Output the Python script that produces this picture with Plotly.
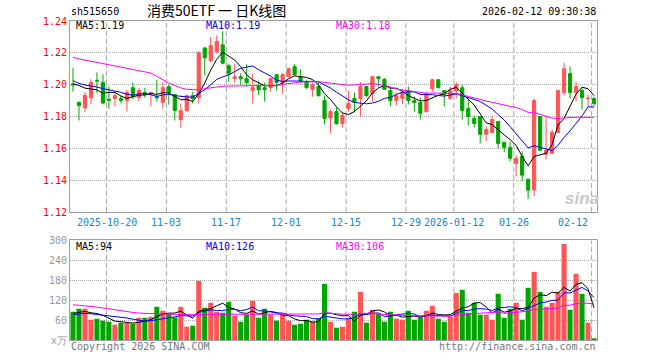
import plotly.graph_objects as go
import pandas as pd

# ---------------- data ----------------
dates = [
    "2025-10-10", "2025-10-13", "2025-10-14", "2025-10-15", "2025-10-16", "2025-10-17",
    "2025-10-20", "2025-10-21", "2025-10-22", "2025-10-23", "2025-10-24",
    "2025-10-27", "2025-10-28", "2025-10-29", "2025-10-30", "2025-10-31",
    "2025-11-03", "2025-11-04", "2025-11-05", "2025-11-06", "2025-11-07",
    "2025-11-10", "2025-11-11", "2025-11-12", "2025-11-13", "2025-11-14",
    "2025-11-17", "2025-11-18", "2025-11-19", "2025-11-20", "2025-11-21",
    "2025-11-24", "2025-11-25", "2025-11-26", "2025-11-27", "2025-11-28",
    "2025-12-01", "2025-12-02", "2025-12-03", "2025-12-04", "2025-12-05",
    "2025-12-08", "2025-12-09", "2025-12-10", "2025-12-11", "2025-12-12",
    "2025-12-15", "2025-12-16", "2025-12-17", "2025-12-18", "2025-12-19",
    "2025-12-22", "2025-12-23", "2025-12-24", "2025-12-25", "2025-12-26",
    "2025-12-29", "2025-12-30", "2025-12-31",
    "2026-01-05", "2026-01-06", "2026-01-07", "2026-01-08", "2026-01-09",
    "2026-01-12", "2026-01-13", "2026-01-14", "2026-01-15", "2026-01-16",
    "2026-01-19", "2026-01-20", "2026-01-21", "2026-01-22", "2026-01-23",
    "2026-01-26", "2026-01-27", "2026-01-28", "2026-01-29", "2026-01-30",
    "2026-02-02", "2026-02-03", "2026-02-04", "2026-02-05", "2026-02-06",
    "2026-02-09", "2026-02-10", "2026-02-11", "2026-02-12",
]

opens = [
    1.2005, 1.1888, 1.1854, 1.1917, 1.2027, 1.2014, 1.1908, 1.1913, 1.1913, 1.1900,
    1.1981, 1.1919, 1.1950, 1.1942, 1.1925, 1.1888, 1.1988, 1.1938, 1.1781, 1.1838,
    1.1931, 1.1919, 1.2231, 1.2150, 1.2208, 1.2250, 1.2119, 1.2038, 1.2050, 1.2038,
    1.1963, 1.1992, 1.1981, 1.1981, 1.2063, 1.2013, 1.2050, 1.2113, 1.2050, 1.2019,
    1.1969, 1.1988, 1.1900, 1.1790, 1.1831, 1.1756, 1.1850, 1.1913, 1.1913, 1.1988,
    1.1944, 1.2050, 1.2033, 1.1963, 1.1900, 1.1913, 1.1963, 1.1900, 1.1888, 1.1831,
    1.1975, 1.2031, 1.1963, 1.1913, 1.1963, 1.1981, 1.1850, 1.1788, 1.1800, 1.1688,
    1.1700, 1.1769, 1.1638, 1.1606, 1.1506, 1.1550, 1.1406, 1.1338, 1.1800, 1.1563,
    1.1569, 1.1700, 1.1950, 1.2069, 1.1950, 1.1963, 1.1913, 1.1913,
]
highs = [
    1.2106, 1.1894, 1.1952, 1.2034, 1.2077, 1.2065, 1.1988, 1.1956, 1.1931, 1.1969,
    1.2013, 1.1981, 1.1981, 1.1956, 1.2031, 1.2019, 1.2000, 1.1942, 1.1881, 1.1938,
    1.1956, 1.2210, 1.2235, 1.2300, 1.2310, 1.2335, 1.2133, 1.2133, 1.2071, 1.2129,
    1.2067, 1.2023, 1.2013, 1.2044, 1.2067, 1.2075, 1.2106, 1.2129, 1.2098, 1.2031,
    1.2013, 1.2013, 1.1931, 1.1840, 1.1856, 1.1831, 1.1963, 1.1950, 1.2015, 1.1994,
    1.2050, 1.2052, 1.2042, 1.1981, 1.1950, 1.1975, 1.1988, 1.1925, 1.1919, 1.1956,
    1.2038, 1.2033, 1.1965, 1.1988, 1.2015, 1.2000, 1.1913, 1.1806, 1.1800, 1.1738,
    1.1800, 1.1771, 1.1640, 1.1638, 1.1556, 1.1581, 1.1408, 1.1913, 1.1802, 1.1800,
    1.1719, 1.1969, 1.2138, 1.2113, 1.2019, 1.1981, 1.1938, 1.1925,
]
lows = [
    1.1956, 1.1775, 1.1828, 1.1879, 1.1948, 1.1876, 1.1849, 1.1863, 1.1883, 1.1831,
    1.1908, 1.1894, 1.1919, 1.1863, 1.1894, 1.1850, 1.1875, 1.1775, 1.1731, 1.1831,
    1.1881, 1.1881, 1.2060, 1.2140, 1.2195, 1.2128, 1.2019, 1.2013, 1.2000, 1.1988,
    1.1881, 1.1935, 1.1894, 1.1956, 1.1963, 1.1944, 1.2044, 1.2056, 1.2013, 1.1975,
    1.1925, 1.1925, 1.1750, 1.1696, 1.1748, 1.1731, 1.1831, 1.1827, 1.1800, 1.1925,
    1.1894, 1.1988, 1.1967, 1.1863, 1.1869, 1.1879, 1.1875, 1.1831, 1.1781, 1.1825,
    1.1956, 1.1977, 1.1863, 1.1906, 1.1913, 1.1781, 1.1744, 1.1731, 1.1631, 1.1644,
    1.1694, 1.1600, 1.1575, 1.1519, 1.1425, 1.1394, 1.1281, 1.1300, 1.1581, 1.1531,
    1.1563, 1.1696, 1.1931, 1.1913, 1.1894, 1.1844, 1.1863, 1.1863,
]
closes = [
    1.1998, 1.1869, 1.1933, 1.2014, 1.2024, 1.1885, 1.1902, 1.1931, 1.1900, 1.1950,
    1.1925, 1.1963, 1.1938, 1.1950, 1.1917, 1.1981, 1.1950, 1.1838, 1.1838, 1.1931,
    1.1913, 1.2200, 1.2169, 1.2245, 1.2272, 1.2135, 1.2071, 1.2050, 1.2038, 1.2013,
    1.1981, 1.1967, 1.1969, 1.2038, 1.2013, 1.2063, 1.2100, 1.2063, 1.2019, 1.1981,
    1.2000, 1.1931, 1.1788, 1.1831, 1.1754, 1.1806, 1.1881, 1.1888, 1.1988, 1.1931,
    1.2050, 1.2038, 1.1971, 1.1900, 1.1931, 1.1950, 1.1900, 1.1888, 1.1821, 1.1944,
    1.2031, 1.1981, 1.1938, 1.1963, 1.2000, 1.1838, 1.1800, 1.1756, 1.1688, 1.1719,
    1.1781, 1.1631, 1.1606, 1.1538, 1.1538, 1.1431, 1.1338, 1.1900, 1.1588, 1.1588,
    1.1700, 1.1963, 1.2100, 1.1950, 1.1988, 1.1919, 1.1915, 1.1881,
]
volumes = [
    85, 94, 94, 61, 64, 58, 55, 46, 52, 52,
    49, 67, 67, 70, 100, 88, 79, 68, 100, 40,
    43, 178, 97, 112, 85, 82, 115, 73, 55, 76,
    118, 67, 94, 76, 58, 79, 58, 46, 49, 61,
    55, 64, 169, 55, 37, 40, 64, 85, 145, 52,
    91, 79, 55, 85, 64, 61, 88, 61, 67, 88,
    103, 64, 55, 70, 142, 151, 82, 112, 76, 76,
    61, 139, 67, 94, 112, 61, 157, 205, 145, 100,
    112, 145, 289, 91, 199, 139, 52, 4,
]

# moving-average values before enough bars exist
ma5_head = [1.2005, 1.1995, 1.1978, 1.1972]
ma10_head = [1.2025, 1.2008, 1.1998, 1.1992, 1.1985, 1.1975, 1.1968, 1.1960, 1.1952]
ma30_head = [1.2171, 1.2162, 1.2152, 1.2146, 1.2140, 1.2133, 1.2127, 1.2119, 1.2112,
             1.2105, 1.2098, 1.2090, 1.2081, 1.2073, 1.2052, 1.2031, 1.2010, 1.1995,
             1.1980, 1.1971, 1.1968, 1.1967, 1.1975, 1.1980, 1.1987, 1.1990, 1.1991,
             1.1992, 1.1992]
vma5_head = [80, 84, 86, 82]
vma10_head = [76, 78, 80, 79, 77, 74, 72, 70, 68]
vma30_head = [106, 105, 103, 101, 99, 96, 93, 90, 87, 85, 83, 81, 80, 80, 79, 79,
              78, 77, 77, 76, 76, 77, 77, 77, 77, 77, 77, 76, 76]

tick_dates = ["2025-10-20", "2025-11-03", "2025-11-17", "2025-12-01", "2025-12-15",
              "2025-12-29", "2026-01-12", "2026-01-26", "2026-02-12"]
tick_labels = ["2025-10-20", "11-03", "11-17", "12-01", "12-15",
               "12-29", "2026-01-12", "01-26", "02-12"]
price_ticks = [1.12, 1.14, 1.16, 1.18, 1.20, 1.22, 1.24]
vol_ticks = [0, 60, 120, 180, 240, 300]
vol_ticktext = ["x万", "60", "120", "180", "240", "300"]

code = "sh515650"
title = "消费50ETF 一 日K线图"
stamp = "2026-02-12 09:30:38"
price_ma_labels = ["MA5:1.19", "MA10:1.19", "MA30:1.18"]
vol_ma_labels = ["MA5:94", "MA10:126", "MA30:106"]


def moving_avg(values, n, head):
    s = pd.Series(values, dtype=float).rolling(n).mean().tolist()
    return list(head) + s[len(head):]


ma5 = moving_avg(closes, 5, ma5_head)
ma10 = moving_avg(closes, 10, ma10_head)
ma30 = moving_avg(closes, 30, ma30_head)
vma5 = moving_avg(volumes, 5, vma5_head)
vma10 = moving_avg(volumes, 10, vma10_head)
vma30 = moving_avg(volumes, 30, vma30_head)

# ---------------- style ----------------
RED = "#ff5555"
GREEN = "#00a600"
BORDER = "#a0a0a0"
GRID = "#a8a8a8"
MONO = "DejaVu Sans Mono"
CJK = "Noto Sans CJK SC"
DATE_BLUE = "#1486d4"

W, H = 660, 360
ML, MR, MT, MB = 70, 63, 21, 20
PW = W - ML - MR
PH = H - MT - MB


def px_x(px):
    return (px - ML) / PW


def px_y(py):
    return (H - MB - py) / PH


main_dom = [px_y(212), 1.0]
vol_dom = [0.0, px_y(240.3)]

fig = go.Figure()

fig.add_trace(go.Candlestick(
    x=dates, open=opens, high=highs, low=lows, close=closes,
    increasing=dict(line=dict(color=RED, width=1), fillcolor=RED),
    decreasing=dict(line=dict(color=GREEN, width=1), fillcolor=GREEN),
    whiskerwidth=0, xaxis="x", yaxis="y", showlegend=False, hoverinfo="skip",
))
for vals, col in [(ma5, "#000000"), (ma10, "#0000ff"), (ma30, "#ff00ff")]:
    fig.add_trace(go.Scatter(x=dates, y=vals, mode="lines", line=dict(color=col, width=1),
                             xaxis="x", yaxis="y", showlegend=False, hoverinfo="skip"))

vol_colors = [RED if c >= o else GREEN for o, c in zip(opens, closes)]
fig.add_trace(go.Bar(x=dates, y=volumes, marker=dict(color=vol_colors, line=dict(width=0)),
                     xaxis="x2", yaxis="y2", showlegend=False, hoverinfo="skip"))
for vals, col in [(vma5, "#000000"), (vma10, "#0000ff"), (vma30, "#ff00ff")]:
    fig.add_trace(go.Scatter(x=dates, y=vals, mode="lines", line=dict(color=col, width=1),
                             xaxis="x2", yaxis="y2", showlegend=False, hoverinfo="skip"))

xcommon = dict(type="category", categoryorder="array", categoryarray=dates,
               range=[-0.5, len(dates) - 0.5], showticklabels=False, showgrid=False,
               showline=True, mirror=True, linecolor=BORDER, linewidth=1,
               zeroline=False, ticks="", fixedrange=True)
ycommon = dict(showgrid=True, gridcolor=GRID, griddash="1px,1px", gridwidth=1,
               showline=True, mirror=True, linecolor=BORDER, linewidth=1,
               zeroline=False, ticks="", fixedrange=True, automargin=False)

fig.update_layout(
    width=W, height=H, margin=dict(l=ML, r=MR, t=MT, b=MB, autoexpand=False),
    paper_bgcolor="white", plot_bgcolor="rgba(0,0,0,0)", showlegend=False,
    bargap=0.15, boxgap=0.25,
    xaxis=dict(**xcommon, anchor="y", rangeslider=dict(visible=False)),
    xaxis2=dict(**xcommon, anchor="y2"),
    yaxis=dict(**ycommon, domain=main_dom, range=[1.12, 1.24], tickvals=price_ticks,
               tickformat=".2f", tickfont=dict(family=MONO, size=10, color="#ff0000"),
               anchor="x"),
    yaxis2=dict(**ycommon, domain=vol_dom, range=[0, 300], tickvals=vol_ticks,
                ticktext=vol_ticktext, tickfont=dict(family=MONO, size=10, color="#999999"),
                anchor="x2"),
)

# vertical dashed date grid lines (both panels)
shapes = []
for d in tick_dates:
    xi = dates.index(d) - 0.4
    for xr, yr, y0, y1 in [("x", "y", 1.12, 1.24), ("x2", "y2", 0, 300)]:
        shapes.append(dict(type="line", xref=xr, yref=yr,
                           x0=xi, x1=xi, y0=y0, y1=y1,
                           line=dict(color=GRID, width=1, dash="5px,3px"), layer="below"))
fig.update_layout(shapes=shapes)

ann = []


def text(s, px, py, color="#000000", size=10, family=MONO, anchor="left", **kw):
    ann.append(dict(text=s, x=px_x(px), y=px_y(py), xref="paper", yref="paper",
                    xanchor=anchor, yanchor="middle", showarrow=False,
                    font=dict(family=family, size=size, color=color), **kw))


text(code, 69, 12, size=10)
text(title, 216, 10, size=14, family=CJK, anchor="center")
text(stamp, 598, 12, size=10, anchor="right")

ma_cols = ["#000000", "#0000ff", "#ff00ff"]
for lab, col, px in zip(price_ma_labels, ma_cols, [74, 204, 334]):
    text(lab, px, 26, color=col, size=10)
for lab, col, px in zip(vol_ma_labels, ma_cols, [74, 204, 334]):
    text(lab, px, 246, color=col, size=10)

for d, lab in zip(tick_dates, tick_labels):
    xi = dates.index(d)
    is_last = d == tick_dates[-1]
    ann.append(dict(text=lab, x=xi - 0.4, y=px_y(222), xref="x", yref="paper",
                    xanchor="right" if is_last else "center", yanchor="middle",
                    xshift=-2 if is_last else 0,
                    showarrow=False, font=dict(family=MONO, size=10, color=DATE_BLUE)))

text("Copyright 2026 SINA.COM", 69, 346, color="#777777", size=10)
text("http://finance.sina.com.cn", 598, 346, color="#777777", size=10, anchor="right")
text("<b><i>sina</i></b>", 582, 198, color="#c8c8c8", size=17, family="Liberation Sans",
     anchor="center")

fig.update_layout(annotations=ann)

fig.write_html("out.html", config={"displayModeBar": False},
               post_script="document.body.style.margin='0px';document.body.style.padding='0px';")
